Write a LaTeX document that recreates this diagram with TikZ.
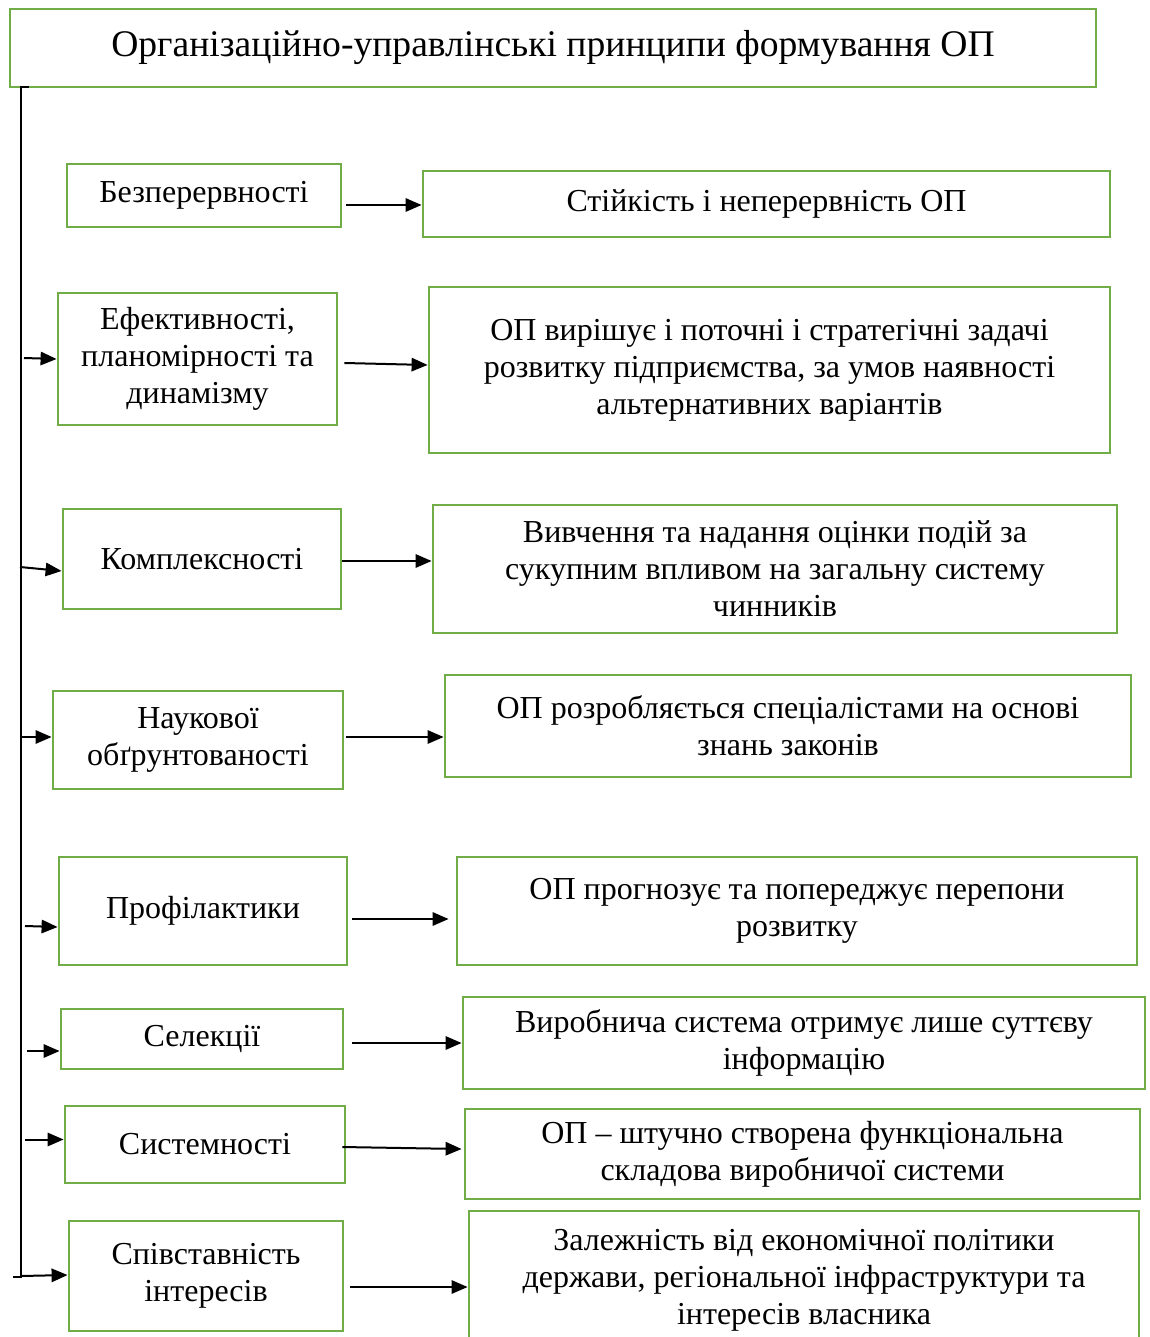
\documentclass[tikz,border=0pt]{standalone}
\usepackage{fontspec}
\setmainfont{Liberation Serif}
\usetikzlibrary{calc,arrows.meta}
\definecolor{boxgreen}{RGB}{112,173,71}

\begin{document}
\begin{tikzpicture}[x=0.75pt,y=-0.75pt]
\tikzstyle{box}=[draw=boxgreen,line width=2.1pt,align=center,inner sep=0pt,font=\fontsize{24}{27.75}\selectfont]
\tikzstyle{arr}=[-{Triangle[length=12pt,width=10pt]},line width=1.5pt]
\useasboundingbox (0,0) rectangle (1149,1337);

% title
\node[box,minimum width=814.5pt,minimum height=58.5pt,font=\fontsize{28.2}{32}\selectfont] (title) at (553,48) {Організаційно-управлінські принципи формування ОП};

% principles (left) and their meaning (right)
\node[box,minimum width=205.5pt,minimum height=47.25pt] (L1) at (204,195.5) {Безперервності};
\node[box,minimum width=515.25pt,minimum height=49.5pt] (R1) at (766.5,204) {Стійкість і неперервність ОП};

\node[box,minimum width=209.25pt,minimum height=99pt] (L2) at (197.5,359) {Ефективності,\\ планомірності та\\ динамізму};
\node[box,minimum width=510.75pt,minimum height=124.5pt] (R2) at (769.5,370) {ОП вирішує і поточні і стратегічні задачі\\ розвитку підприємства, за умов наявності\\ альтернативних варіантів};

\node[box,minimum width=208.5pt,minimum height=75pt] (L3) at (202,559) {Комплексності};
\node[box,minimum width=513pt,minimum height=96pt] (R3) at (775,569) {Вивчення та надання оцінки подій за\\ сукупним впливом на загальну систему\\ чинників};

\node[box,minimum width=217.5pt,minimum height=73.5pt] (L4) at (198,740) {Наукової\\ обґрунтованості};
\node[box,minimum width=514.5pt,minimum height=76.5pt] (R4) at (788,726) {ОП розробляється спеціалістами на основі\\ знань законів};

\node[box,minimum width=216pt,minimum height=81pt] (L5) at (203,911) {Профілактики};
\node[box,minimum width=510pt,minimum height=81pt] (R5) at (797,911) {ОП прогнозує та попереджує перепони\\ розвитку};

\node[box,minimum width=211.5pt,minimum height=45pt] (L6) at (202,1039) {Селекції};
\node[box,minimum width=511.5pt,minimum height=69pt] (R6) at (804,1043) {Виробнича система отримує лише суттєву\\ інформацію};

\node[box,minimum width=210pt,minimum height=57.75pt] (L7) at (205,1144.5) {Системності};
\node[box,minimum width=506.25pt,minimum height=67.5pt] (R7) at (802.5,1154) {ОП – штучно створена функціональна\\ складова виробничої системи};

\node[box,minimum width=205.5pt,minimum height=82.5pt] (L8) at (206,1276) {Співставність\\ інтересів};
\node[box,minimum width=502.5pt,minimum height=104.25pt] (R8) at (804,1280.5) {Залежність від економічної політики\\ держави, регіональної інфраструктури та\\ інтересів власника};

% bus line
\coordinate (bustop) at (21,87);
\coordinate (busbot) at (21,1277);
\draw[line width=0.8pt] ($(bustop)+(8,0)$) -- (bustop) -- (busbot) -- ++(-8,0);

% bus -> principles
\draw[arr] ($(bustop |- L2.west)+(3,-1)$) -- (L2.west);
\draw[arr] ($(bustop |- L3.west)+(-1,8)$) -- ($(L3.west)+(0,12)$);
\draw[arr] ($(bustop |- L4.west)+(-1,-3)$) -- ($(L4.west)+(0,-3)$);
\draw[arr] ($(bustop |- L5.west)+(4,15)$) -- ($(L5.west)+(0,16)$);
\draw[arr] ($(bustop |- L6.west)+(6,12)$) -- ($(L6.west)+(0,12)$);
\draw[arr] ($(bustop |- L7.west)+(4,-5)$) -- ($(L7.west)+(0,-5)$);
\draw[arr] ($(bustop |- L8.west)$) -- ($(L8.west)+(0,-1)$);

% principles -> meaning
\draw[arr] ($(L1.east)+(4,9.5)$) -- ($(R1.west)+(0,1)$);
\draw[arr] ($(L2.east)+(6,4)$) -- ($(R2.west)+(0,-5)$);
\draw[arr] ($(L3.east)+(0,2)$) -- ($(R3.west)+(0,-8)$);
\draw[arr] ($(L4.east)+(2,-3)$) -- ($(R4.west)+(0,11)$);
\draw[arr] ($(L5.east)+(4,8)$) -- ($(R5.west)+(-7,8)$);
\draw[arr] ($(L6.east)+(8,4)$) -- (R6.west);
\draw[arr] ($(L7.east)+(-4,2.5)$) -- ($(R7.west)+(-2,-5)$);
\draw[arr] ($(L8.east)+(6,11)$) -- ($(R8.west)+(0,6.5)$);
\end{tikzpicture}
\end{document}
